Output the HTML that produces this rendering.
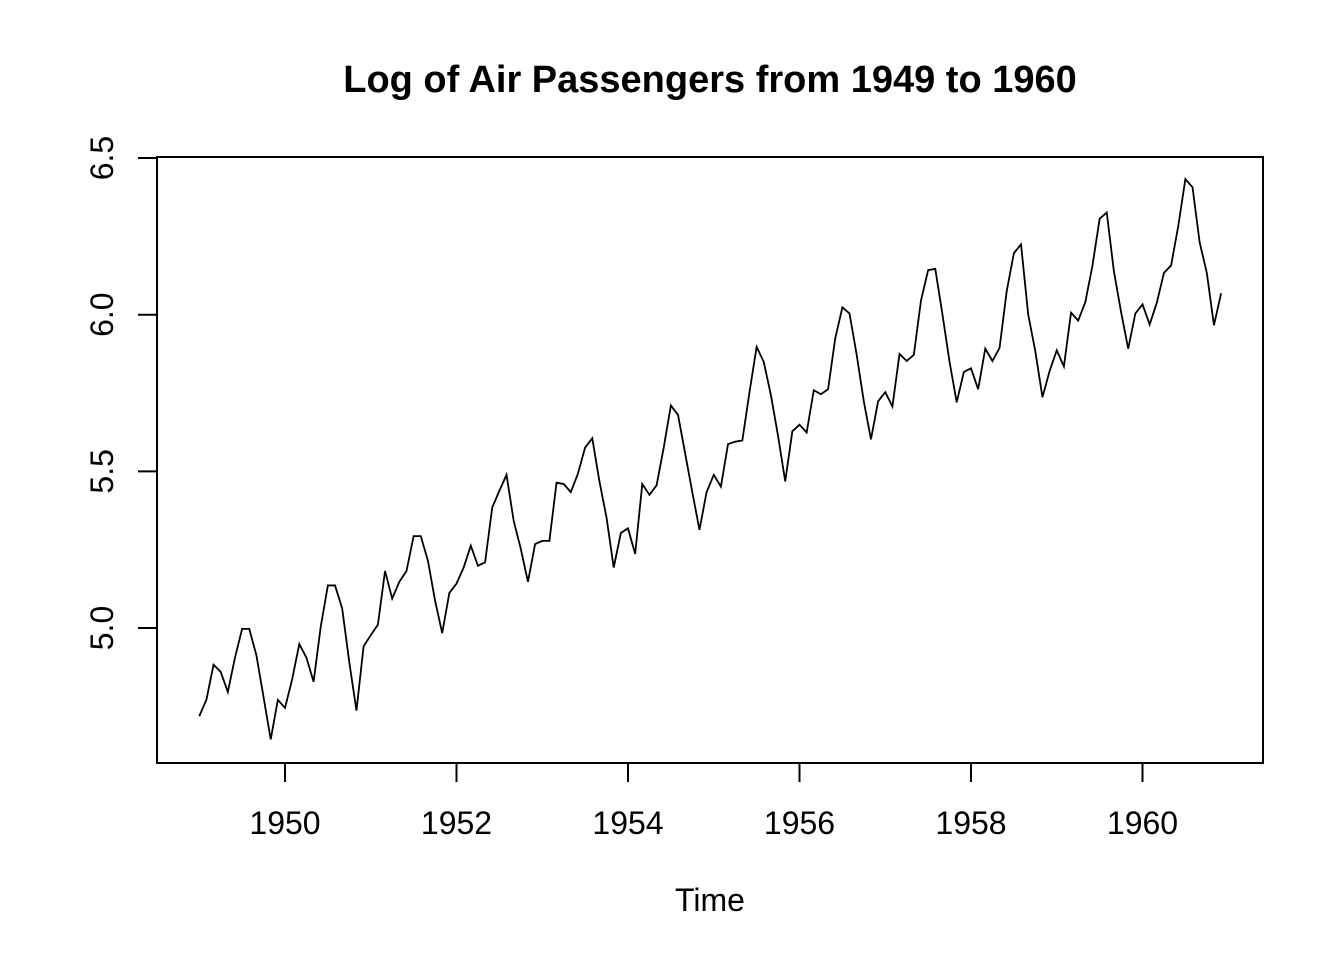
<!DOCTYPE html>
<html><head><meta charset="utf-8"><style>
body{margin:0;background:#fff}
svg{display:block;font-family:"Liberation Sans",Arial,sans-serif}
</style></head><body>
<svg id="c" width="1344" height="960" xmlns="http://www.w3.org/2000/svg">
<rect width="1344" height="960" fill="#fff"/>
<text x="710" y="92" text-anchor="middle" font-size="38" font-weight="bold">Log of Air Passengers from 1949 to 1960</text>
<rect x="157" y="157" width="1106" height="606" fill="none" stroke="#000" stroke-width="2"/>
<text x="710" y="911" text-anchor="middle" font-size="32">Time</text>
<g id="ax"></g>
<path id="ln" fill="none" stroke="#000" stroke-width="1.8"/>
</svg>
<script>
const startYear = 1949;
const passengers = [
112,118,132,129,121,135,148,148,136,119,104,118,
115,126,141,135,125,149,170,170,158,133,114,140,
145,150,178,163,172,178,199,199,184,162,146,166,
171,180,193,181,183,218,230,242,209,191,172,194,
196,196,236,235,229,243,264,272,237,211,180,201,
204,188,235,227,234,264,302,293,259,229,203,229,
242,233,267,269,270,315,364,347,312,274,237,278,
284,277,317,313,318,374,413,405,355,306,271,306,
315,301,356,348,355,422,465,467,404,347,305,336,
340,318,362,348,363,435,491,505,404,359,310,337,
360,342,406,396,420,472,548,559,463,407,362,405,
417,391,419,461,472,535,622,606,508,461,390,432];
const xTicks = [1950,1952,1954,1956,1958,1960];
const yTicks = [5.0,5.5,6.0,6.5];
const yTickLabels = ["5.0","5.5","6.0","6.5"];

const ns="http://www.w3.org/2000/svg";
function xs(t){return 285+(t-1950)*85.75;}
function ys(v){return 628-(v-5.0)*313.3;}
const ax=document.getElementById('ax');
xTicks.forEach(t=>{
  const l=document.createElementNS(ns,'line');
  l.setAttribute('x1',xs(t));l.setAttribute('x2',xs(t));l.setAttribute('y1',763);l.setAttribute('y2',782);
  l.setAttribute('stroke','#000');l.setAttribute('stroke-width','2');
  
  
  ax.appendChild(l);
  const tx=document.createElementNS(ns,'text');
  tx.setAttribute('x',xs(t));tx.setAttribute('y',834);tx.setAttribute('text-anchor','middle');tx.setAttribute('font-size','32');
  tx.textContent=t;
  
  
  ax.appendChild(tx);
});
yTicks.forEach((v,i)=>{
  const y=ys(v);
  const l=document.createElementNS(ns,'line');
  l.setAttribute('x1',138);l.setAttribute('x2',157);l.setAttribute('y1',y);l.setAttribute('y2',y);
  l.setAttribute('stroke','#000');l.setAttribute('stroke-width','2');
  
  
  ax.appendChild(l);
  const tx=document.createElementNS(ns,'text');
  tx.setAttribute('transform','translate(113,'+y+') rotate(-90)');
  tx.setAttribute('text-anchor','middle');tx.setAttribute('font-size','32');
  tx.textContent=yTickLabels[i];
  
  
  ax.appendChild(tx);
});
let d='';
passengers.forEach((p,i)=>{
  const x=xs(startYear+i/12), y=ys(Math.log(p));
  d+=(i?'L':'M')+x.toFixed(2)+' '+y.toFixed(2);
});
document.getElementById('ln').setAttribute('d',d);
</script>
</body></html>
